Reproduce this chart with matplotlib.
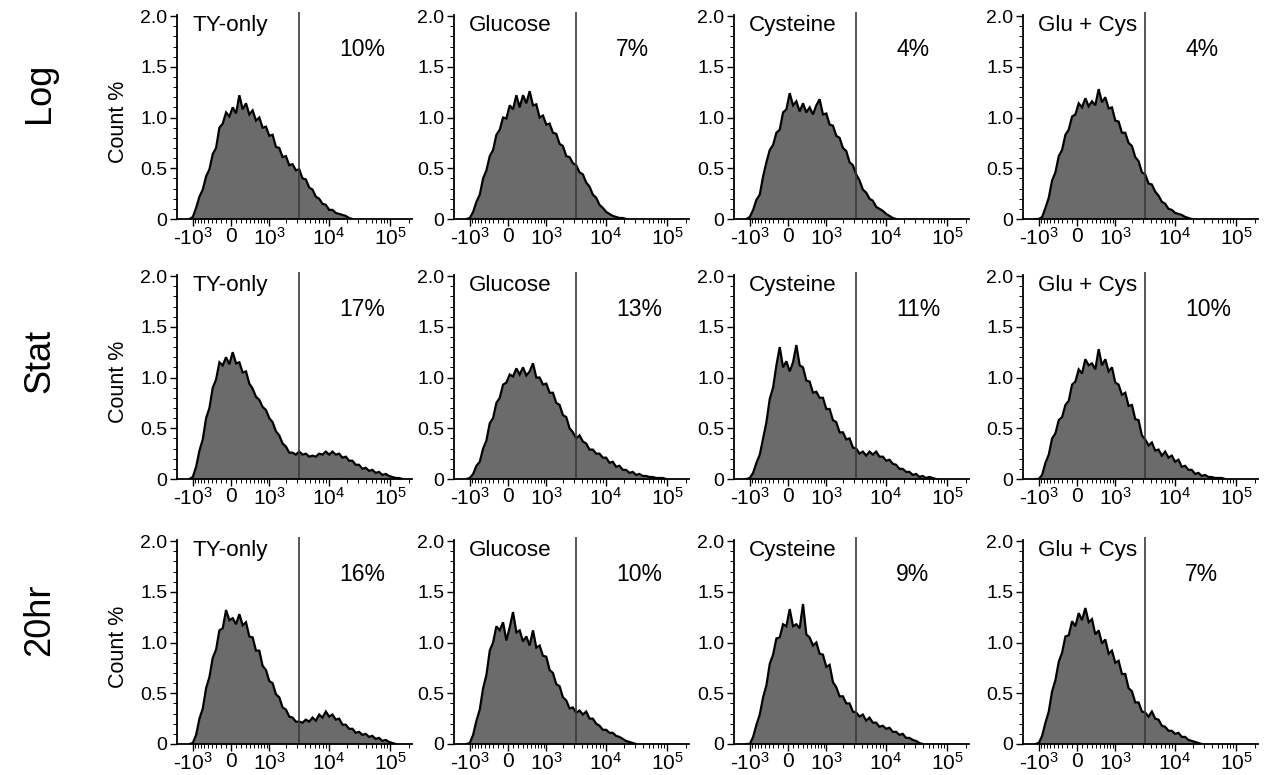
import numpy as np
import matplotlib
matplotlib.use('Agg')
import matplotlib.pyplot as plt
from matplotlib.ticker import FixedLocator, MultipleLocator, NullFormatter, FixedFormatter
import matplotlib.transforms as mtransforms

plt.rcParams['font.family'] = ['Liberation Sans', 'DejaVu Sans']
plt.rcParams['mathtext.fontset'] = 'custom'
plt.rcParams['mathtext.rm'] = 'Liberation Sans'
plt.rcParams['mathtext.it'] = 'Liberation Sans:italic'
plt.rcParams['mathtext.bf'] = 'Liberation Sans:bold'

# ---------------- data ----------------
row_labels = ['Log', 'Stat', '20hr']
media = ['TY-only', 'Glucose', 'Cysteine', 'Glu + Cys']
percent_above_gate = [[10, 7, 4, 4],
                      [17, 13, 11, 10],
                      [16, 10, 9, 7]]

x_ticks = [-1e3, 0, 1e3, 1e4, 1e5]
x_tick_labels = ['-$10^3$', '$0$', '$10^3$', '$10^4$', '$10^5$']
y_ticks = [0, 0.5, 1.0, 1.5, 2.0]
y_tick_labels = ['0', '0.5', '1.0', '1.5', '2.0']
gate_position = 3200

# Count % per channel, starting at channel index 2 of the display grid
first_channel = 2
log_ty = [0.02,0.11,0.22,0.29,0.42,0.49,0.64,0.70,0.90,0.94,1.05,1.01,1.10,1.04,1.22,1.08,1.14,1.03,1.07,0.97,
          1.00,0.90,0.91,0.82,0.83,0.71,0.70,0.61,0.62,0.53,0.54,0.48,0.49,0.40,0.39,0.31,0.29,0.22,0.20,0.15,
          0.14,0.09,0.09,0.06,0.05,0.04,0.03,0.01]
log_glu = [0.01,0.07,0.17,0.24,0.40,0.48,0.62,0.68,0.83,0.88,1.00,0.99,1.12,1.08,1.22,1.10,1.22,1.14,1.26,1.12,
           1.13,1.00,1.02,0.93,0.94,0.85,0.84,0.74,0.72,0.62,0.61,0.55,0.53,0.46,0.44,0.36,0.32,0.24,0.21,0.14,
           0.11,0.07,0.05,0.03,0.02,0.01,0.01]
log_cys = [0.02,0.09,0.19,0.24,0.42,0.56,0.68,0.73,0.85,0.88,1.05,1.08,1.24,1.12,1.16,1.06,1.14,1.05,1.10,1.03,
           1.12,1.18,1.03,1.04,0.93,0.92,0.82,0.80,0.70,0.67,0.56,0.53,0.44,0.38,0.29,0.26,0.20,0.18,0.12,0.10,
           0.08,0.05,0.03,0.01]
log_glucys = [0.00,0.02,0.11,0.21,0.38,0.46,0.62,0.68,0.83,0.88,1.01,1.03,1.14,1.10,1.19,1.11,1.16,1.12,1.28,1.15,
              1.20,1.09,1.10,0.97,0.96,0.85,0.85,0.75,0.72,0.61,0.57,0.46,0.44,0.35,0.34,0.27,0.23,0.17,0.15,0.10,
              0.09,0.06,0.05,0.04,0.02,0.01]
stat_ty = [0.02,0.12,0.28,0.39,0.60,0.70,0.90,0.98,1.15,1.12,1.20,1.13,1.25,1.14,1.15,1.05,1.06,0.94,0.89,0.81,
           0.78,0.71,0.68,0.60,0.56,0.47,0.43,0.35,0.32,0.26,0.26,0.24,0.27,0.24,0.25,0.22,0.23,0.22,0.25,0.24,
           0.27,0.24,0.27,0.24,0.25,0.21,0.22,0.18,0.18,0.14,0.14,0.10,0.11,0.08,0.09,0.06,0.07,0.04,0.05,0.03,
           0.02,0.01,0.01]
stat_glu = [0.01,0.05,0.13,0.17,0.30,0.38,0.55,0.60,0.75,0.80,0.93,0.95,1.03,1.01,1.09,1.03,1.10,1.02,1.06,1.14,
            1.00,1.00,0.93,0.94,0.85,0.85,0.75,0.73,0.63,0.61,0.50,0.46,0.40,0.43,0.37,0.35,0.29,0.29,0.25,0.25,
            0.21,0.21,0.16,0.17,0.12,0.13,0.09,0.09,0.06,0.07,0.04,0.05,0.03,0.03,0.02,0.02,0.01,0.01,0.01]
stat_cys = [0.01,0.06,0.16,0.24,0.40,0.56,0.79,0.90,1.12,1.30,1.10,1.16,1.06,1.15,1.32,1.12,1.10,0.97,0.96,0.85,
            0.86,0.80,0.80,0.69,0.69,0.58,0.56,0.46,0.46,0.39,0.40,0.31,0.30,0.25,0.27,0.23,0.27,0.24,0.27,0.22,
            0.22,0.18,0.19,0.15,0.14,0.10,0.10,0.07,0.07,0.04,0.05,0.02,0.03,0.01,0.02,0.01]
stat_glucys = [0.00,0.04,0.16,0.24,0.40,0.45,0.58,0.61,0.73,0.77,0.93,0.96,1.08,1.04,1.18,1.12,1.14,1.08,1.28,1.12,
               1.18,1.06,1.10,0.95,0.93,0.83,0.85,0.72,0.73,0.59,0.58,0.43,0.39,0.33,0.36,0.28,0.29,0.23,0.27,0.21,
               0.23,0.17,0.19,0.12,0.13,0.09,0.09,0.05,0.06,0.03,0.04,0.02,0.02,0.01,0.01,0.01]
h20_ty = [0.01,0.09,0.25,0.35,0.55,0.66,0.85,0.93,1.12,1.14,1.32,1.22,1.24,1.18,1.28,1.17,1.20,1.06,1.05,0.92,
          0.92,0.77,0.73,0.62,0.60,0.49,0.46,0.36,0.34,0.27,0.26,0.22,0.22,0.21,0.24,0.22,0.26,0.23,0.29,0.26,
          0.32,0.27,0.29,0.24,0.25,0.19,0.19,0.15,0.15,0.11,0.12,0.09,0.10,0.07,0.08,0.05,0.06,0.03,0.04,0.02,
          0.01]
h20_glu = [0.01,0.09,0.23,0.34,0.55,0.68,0.92,1.00,1.16,1.12,1.20,1.02,1.15,1.30,1.10,1.12,1.01,1.06,0.97,1.12,
           0.95,0.97,0.87,0.86,0.73,0.70,0.59,0.57,0.46,0.43,0.35,0.36,0.31,0.33,0.29,0.32,0.25,0.25,0.20,0.18,
           0.14,0.14,0.11,0.11,0.08,0.07,0.05,0.03,0.02,0.01]
h20_cys = [0.00,0.07,0.19,0.29,0.46,0.58,0.79,0.88,1.04,1.05,1.18,1.16,1.33,1.16,1.18,1.14,1.38,1.08,1.05,0.97,
           1.00,0.89,0.88,0.76,0.78,0.61,0.56,0.47,0.47,0.40,0.40,0.32,0.31,0.27,0.29,0.23,0.26,0.21,0.21,0.17,
           0.18,0.15,0.16,0.12,0.12,0.09,0.10,0.06,0.06,0.04,0.03,0.01]
h20_glucys = [0.01,0.08,0.21,0.32,0.52,0.63,0.81,0.90,1.06,1.07,1.21,1.16,1.29,1.22,1.34,1.20,1.23,1.08,1.12,0.99,
              1.03,0.89,0.92,0.80,0.82,0.69,0.69,0.55,0.52,0.41,0.41,0.32,0.31,0.27,0.32,0.25,0.24,0.18,0.17,0.13,
              0.13,0.10,0.11,0.07,0.07,0.04,0.03,0.02,0.01]

histograms = [[log_ty, log_glu, log_cys, log_glucys],
              [stat_ty, stat_glu, stat_cys, stat_glucys],
              [h20_ty, h20_glu, h20_cys, h20_glucys]]

# ---------------- biexponential-like display scale ----------------
W = 507.0
def fwd(x):
    return np.arcsinh(np.asarray(x, dtype=float) / W)
def inv(y):
    return W * np.sinh(np.asarray(y, dtype=float))

n_channels = 66
ch_lo, ch_step = -1.75, 0.125
channel_centers = inv(ch_lo + ch_step * (np.arange(n_channels) + 0.5))
x_limits = (-1900, 228000)

minor_x = ([-2000] + [-100 * i for i in range(1, 10)] + [100 * i for i in range(1, 10)]
           + [1000 * i for i in range(2, 10)] + [10000 * i for i in range(2, 10)] + [200000])

FILL = '#6b6b6b'

fig = plt.figure(figsize=(12.76, 7.75), dpi=100)
FW, FH = 1276.0, 775.0
col_x = [177, 454, 734, 1023]
row_base = [219, 479, 744]
AX_W, AX_H = 235, 207
Y_TOP = 2.04

for r in range(3):
    for c in range(4):
        ax = fig.add_axes([col_x[c] / FW, (FH - row_base[r]) / FH, AX_W / FW, AX_H / FH])
        ax.set_xscale('function', functions=(fwd, inv))
        h = histograms[r][c]
        lo = first_channel - 1
        hi = first_channel + len(h) + 1
        vals = np.zeros(n_channels)
        vals[first_channel:first_channel + len(h)] = h
        xs = channel_centers[lo:hi]
        ys = vals[lo:hi]
        ax.fill_between(xs, 0, ys, color=FILL, lw=0)
        ax.plot(xs, ys, color='black', lw=1.6, solid_joinstyle='miter')
        ax.axvline(gate_position, color='#3a3a3a', lw=1.2)
        ax.set_xlim(*x_limits)
        ax.set_ylim(0, Y_TOP)

        ax.xaxis.set_major_locator(FixedLocator(x_ticks))
        ax.xaxis.set_major_formatter(FixedFormatter(x_tick_labels))
        ax.xaxis.set_minor_locator(FixedLocator(minor_x))
        ax.xaxis.set_minor_formatter(NullFormatter())
        ax.yaxis.set_major_locator(FixedLocator(y_ticks))
        ax.yaxis.set_major_formatter(FixedFormatter(y_tick_labels))
        ax.yaxis.set_minor_locator(MultipleLocator(0.1))

        for s in ['top', 'right']:
            ax.spines[s].set_visible(False)
        for s in ['left', 'bottom']:
            ax.spines[s].set_linewidth(1.3)
        ax.spines['left'].set_bounds(0, 2.01)
        ax.tick_params(axis='both', which='major', direction='out', length=5, width=1.0,
                       colors='black')
        ax.tick_params(axis='x', which='major', pad=1, labelsize=15)
        ax.tick_params(axis='y', which='major', pad=2, labelsize=14)
        ax.tick_params(axis='both', which='minor', direction='out', length=3, width=0.7)

        trans = mtransforms.blended_transform_factory(ax.transAxes, ax.transData)
        ax.text(0.064, 1.85, media[c], transform=trans, fontsize=16.2, va='baseline', ha='left')
        ax.text(0.69, 1.61, f'{percent_above_gate[r][c]}%', transform=trans, fontsize=16.5,
                va='baseline', ha='left')
        if c == 0:
            ax.text(-0.25, 0.47, 'Count %', transform=ax.transAxes, rotation=90,
                    fontsize=15.5, ha='center', va='center')

row_label_y = [93, 361, 620]
for r in range(3):
    fig.text(40 / FW, 1 - row_label_y[r] / FH, row_labels[r], rotation=90, fontsize=26,
             ha='center', va='center')

fig.savefig('out.png', dpi=100)
